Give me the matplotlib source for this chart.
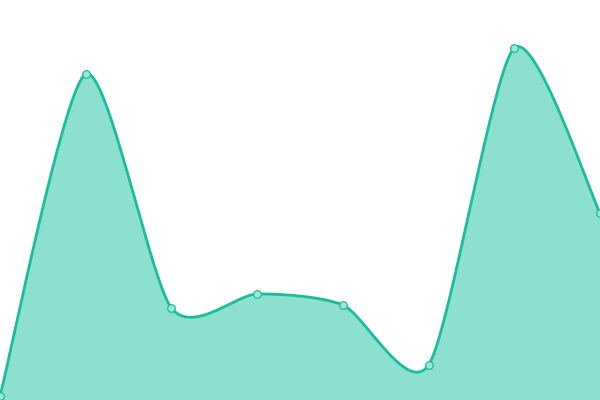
import numpy as np
import matplotlib
matplotlib.use("Agg")
import matplotlib.pyplot as plt

# values (0 = bottom, 400 = top)
x_idx = [0, 1, 2, 3, 4, 5, 6, 7]
values = [4, 326, 92, 106, 95, 35, 352, 187]

line_color = "#1abc9c"
fill_color = "#8be0d0"


def cardinal(xs, ys, k=0.37, n=40):
    # cardinal spline through the points, end points duplicated
    xs = np.asarray(xs, float)
    ys = np.asarray(ys, float)
    px = np.concatenate([[xs[0]], xs, [xs[-1]]])
    py = np.concatenate([[ys[0]], ys, [ys[-1]]])
    out_x, out_y = [], []
    for i in range(1, len(px) - 2):
        t = np.linspace(0, 1, n, endpoint=False)
        mx0 = (px[i + 1] - px[i - 1]) * k
        mx1 = (px[i + 2] - px[i]) * k
        my0 = (py[i + 1] - py[i - 1]) * k
        my1 = (py[i + 2] - py[i]) * k
        h00 = 2 * t**3 - 3 * t**2 + 1
        h10 = t**3 - 2 * t**2 + t
        h01 = -2 * t**3 + 3 * t**2
        h11 = t**3 - t**2
        out_x.append(h00 * px[i] + h10 * mx0 + h01 * px[i + 1] + h11 * mx1)
        out_y.append(h00 * py[i] + h10 * my0 + h01 * py[i + 1] + h11 * my1)
    out_x.append([xs[-1]])
    out_y.append([ys[-1]])
    return np.concatenate(out_x), np.concatenate(out_y)


sx, sy = cardinal(x_idx, values)

fig = plt.figure(figsize=(6, 4), dpi=100)
ax = fig.add_axes([0, 0, 1, 1])
ax.fill_between(sx, sy, 0, color=fill_color, lw=0)
ax.plot(sx, sy, color=line_color, lw=2.0, solid_capstyle="round")
ax.plot(x_idx, values, "o", ms=5.5, mfc="#9fe6d8", mec=line_color, mew=0.9, clip_on=True)
ax.set_xlim(0, 7)
ax.set_ylim(0, 400)
ax.axis("off")
fig.savefig("out.png")
